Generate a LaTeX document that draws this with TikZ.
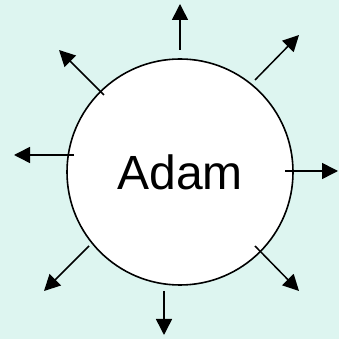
\documentclass[tikz,border=0pt]{standalone}
\usepackage{fontspec}
\setmainfont{Liberation Sans}
\usepackage{xcolor}
\usetikzlibrary{arrows.meta}
\definecolor{bgteal}{RGB}{221,245,240}

\begin{document}
\begin{tikzpicture}[
    x=1pt, y=1pt,
    person/.style={draw, circle, fill=white, line width=1.6pt, minimum size=226pt, inner sep=0pt, font=\fontsize{48}{56}\selectfont},
    arrow/.style={-{Triangle[length=16pt, width=16pt]}, line width=1.5pt}
]
    \fill[bgteal] (0,0) rectangle (339,339);
    \useasboundingbox (0,0) rectangle (339,339);
    \node[person] (adam) at (180,167) {Adam};
    % start and end of each arrow
    \coordinate (n1) at (180,289); \coordinate (n2) at (180,335);
    \coordinate (ne1) at (255,259); \coordinate (ne2) at (299,304);
    \coordinate (e1) at (285,168); \coordinate (e2) at (338,168);
    \coordinate (se1) at (255,93); \coordinate (se2) at (299,48);
    \coordinate (s1) at (164,48); \coordinate (s2) at (164,4);
    \coordinate (sw1) at (89,93); \coordinate (sw2) at (44,48);
    \coordinate (w1) at (74,184); \coordinate (w2) at (14,184);
    \coordinate (nw1) at (104,244); \coordinate (nw2) at (59,289);
    \foreach \d in {n,ne,e,se,s,sw,w,nw}
        \draw[arrow] (\d1) -- (\d2);
\end{tikzpicture}
\end{document}
